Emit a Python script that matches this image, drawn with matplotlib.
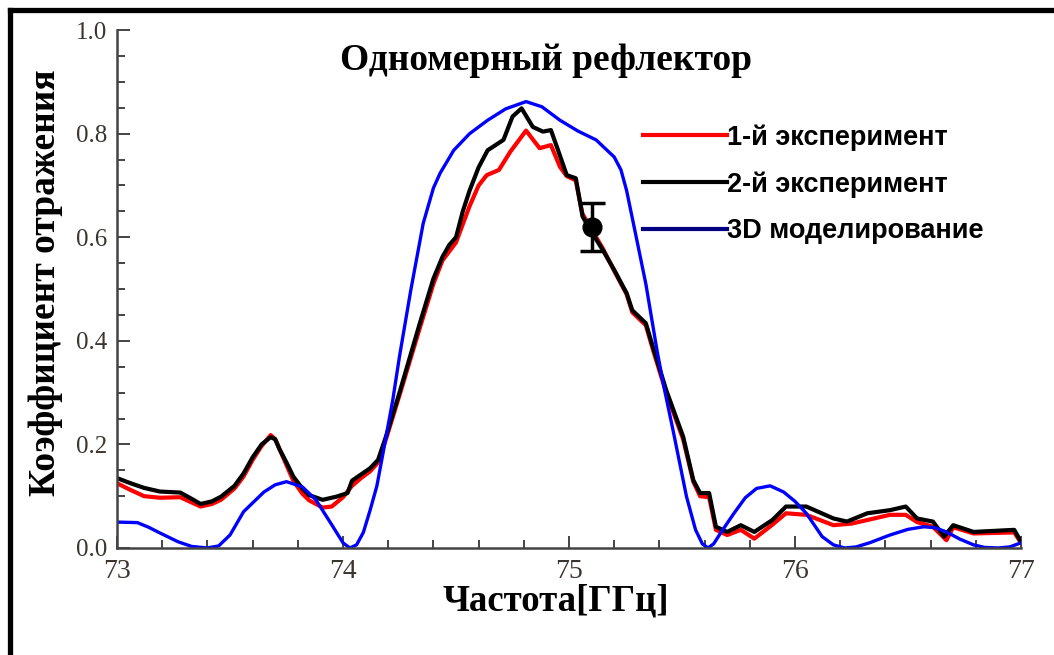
import matplotlib
matplotlib.use("Agg")
import matplotlib.pyplot as plt
from matplotlib.lines import Line2D

# частота, ГГц и коэффициент отражения
freq_exp1 = [73.0, 73.06, 73.12, 73.19, 73.28, 73.33, 73.37, 73.42, 73.46, 73.52, 73.56, 73.6,
             73.64, 73.68, 73.7, 73.72, 73.75, 73.78, 73.82, 73.85, 73.91, 73.95, 74.0, 74.04,
             74.08, 74.12, 74.155, 74.19, 74.25, 74.34, 74.4, 74.44, 74.5, 74.56, 74.6, 74.636,
             74.69, 74.74, 74.81, 74.87, 74.92, 74.96, 74.99, 75.03, 75.05, 75.06, 75.1, 75.15,
             75.2, 75.255, 75.28, 75.34, 75.37, 75.43, 75.505, 75.55, 75.58, 75.62, 75.65, 75.7,
             75.76, 75.82, 75.9, 75.96, 76.05, 76.17, 76.25, 76.42, 76.49, 76.54, 76.61, 76.67,
             76.7, 76.79, 76.97, 77.0]
refl_exp1 = [0.125, 0.112, 0.1, 0.097, 0.098, 0.088, 0.08, 0.085, 0.093, 0.115, 0.138, 0.17,
             0.197, 0.218, 0.21, 0.19, 0.16, 0.13, 0.105, 0.092, 0.078, 0.08, 0.098, 0.12,
             0.135, 0.148, 0.165, 0.21, 0.295, 0.425, 0.51, 0.555, 0.59, 0.66, 0.7, 0.72,
             0.73, 0.765, 0.806, 0.772, 0.778, 0.736, 0.718, 0.71, 0.665, 0.645, 0.615, 0.578,
             0.535, 0.49, 0.455, 0.43, 0.385, 0.3, 0.21, 0.128, 0.1, 0.098, 0.035, 0.025,
             0.035, 0.018, 0.045, 0.067, 0.064, 0.044, 0.047, 0.064, 0.064, 0.05, 0.041, 0.015,
             0.04, 0.028, 0.03, 0.01]

freq_exp2 = [73.0, 73.06, 73.12, 73.19, 73.28, 73.33, 73.37, 73.42, 73.46, 73.52, 73.56, 73.6,
             73.64, 73.68, 73.7, 73.72, 73.75, 73.78, 73.82, 73.85, 73.91, 73.97, 74.02, 74.04,
             74.08, 74.12, 74.155, 74.19, 74.25, 74.34, 74.4, 74.44, 74.47, 74.5, 74.53, 74.56,
             74.6, 74.64, 74.71, 74.75, 74.79, 74.84, 74.885, 74.92, 74.946, 74.99, 75.03, 75.05,
             75.06, 75.1, 75.15, 75.2, 75.255, 75.28, 75.34, 75.37, 75.43, 75.505, 75.55, 75.58,
             75.62, 75.65, 75.7, 75.76, 75.82, 75.9, 75.96, 76.05, 76.17, 76.23, 76.32, 76.42,
             76.49, 76.54, 76.61, 76.66, 76.7, 76.79, 76.97, 77.0]
refl_exp2 = [0.135, 0.125, 0.116, 0.109, 0.107, 0.095, 0.085, 0.09, 0.099, 0.12, 0.144, 0.175,
             0.2, 0.214, 0.21, 0.19, 0.165, 0.138, 0.115, 0.102, 0.093, 0.099, 0.106, 0.13,
             0.142, 0.154, 0.17, 0.215, 0.3, 0.434, 0.52, 0.562, 0.585, 0.6, 0.65, 0.69,
             0.735, 0.768, 0.788, 0.833, 0.849, 0.813, 0.804, 0.807, 0.775, 0.72, 0.714, 0.665,
             0.64, 0.61, 0.575, 0.537, 0.492, 0.459, 0.434, 0.39, 0.305, 0.215, 0.131, 0.106,
             0.106, 0.041, 0.031, 0.044, 0.031, 0.054, 0.08, 0.08, 0.057, 0.051, 0.067, 0.073,
             0.08, 0.057, 0.051, 0.022, 0.044, 0.031, 0.035, 0.012]

freq_model = [73.0, 73.09, 73.14, 73.19, 73.27, 73.33, 73.4, 73.45, 73.5, 73.56, 73.65, 73.7,
              73.75, 73.82, 73.88, 73.95, 74.0, 74.03, 74.06, 74.09, 74.12, 74.15, 74.18, 74.22,
              74.25, 74.3, 74.355, 74.4, 74.43, 74.49, 74.56, 74.64, 74.72, 74.81, 74.88, 74.96,
              75.04, 75.12, 75.2, 75.23, 75.255, 75.3, 75.34, 75.39, 75.42, 75.46, 75.52, 75.56,
              75.59, 75.615, 75.64, 75.68, 75.73, 75.78, 75.83, 75.89, 75.95, 76.0, 76.05, 76.12,
              76.17, 76.22, 76.27, 76.33, 76.42, 76.5, 76.57, 76.62, 76.67, 76.73, 76.79, 76.84,
              76.9, 76.95, 77.0]
refl_model = [0.05, 0.049, 0.04, 0.029, 0.012, 0.003, 0.0, 0.004, 0.025, 0.07, 0.108, 0.122,
              0.128, 0.118, 0.093, 0.045, 0.01, 0.0, 0.006, 0.03, 0.073, 0.12, 0.19, 0.285,
              0.37, 0.498, 0.627, 0.695, 0.724, 0.768, 0.8, 0.826, 0.848, 0.862, 0.852, 0.826,
              0.805, 0.788, 0.755, 0.73, 0.69, 0.595, 0.51, 0.38, 0.311, 0.228, 0.099, 0.035,
              0.008, 0.0, 0.008, 0.035, 0.067, 0.097, 0.115, 0.12, 0.108, 0.09, 0.067, 0.022,
              0.006, 0.0, 0.002, 0.01, 0.025, 0.036, 0.041, 0.039, 0.031, 0.017, 0.006, 0.001,
              0.0, 0.002, 0.01]

# отдельная точка с погрешностью
point_freq = 75.1
point_refl = 0.62
point_err = 0.047

labels = ["1-й эксперимент", "2-й эксперимент", "3D моделирование"]

fig = plt.figure(figsize=(10.54, 6.55), dpi=100)
ax = fig.add_axes([0.111, 0.1634, 0.8577, 0.7906])

ax.plot(freq_exp1, refl_exp1, color="#ff0000", lw=3.0, solid_joinstyle="round")
ax.plot(freq_exp2, refl_exp2, color="#000000", lw=3.0, solid_joinstyle="round")
ax.plot(freq_model, refl_model, color="#0000ff", lw=2.4)
ax.errorbar([point_freq], [point_refl], yerr=[point_err], fmt="o", color="black",
            ms=13.5, elinewidth=2.5, capsize=9, capthick=2.5, zorder=5)

ax.set_xlim(73, 77)
ax.set_ylim(0, 1.0)
ax.set_xticks([73, 74, 75, 76, 77])
ax.set_xticks([73 + 0.2 * i for i in range(21)], minor=True)
ax.set_yticks([0.0, 0.2, 0.4, 0.6, 0.8, 1.0])
ax.set_yticks([0.05 * i for i in range(21)], minor=True)
ax.set_yticklabels(["0.0", "0.2", "0.4", "0.6", "0.8", "1.0"])

tick_col = "#3b3530"
for s in ["top", "right"]:
    ax.spines[s].set_visible(False)
for s in ["left", "bottom"]:
    ax.spines[s].set_color("#444444")
    ax.spines[s].set_linewidth(1.8)
ax.tick_params(which="both", direction="in", color="#444444", width=1.4)
ax.tick_params(which="major", length=9)
ax.tick_params(which="minor", length=6)
ax.tick_params(axis="x", labelsize=20, pad=8, labelcolor=tick_col)
ax.tick_params(axis="y", labelsize=18, pad=7, labelcolor=tick_col)
for lab in ax.get_xticklabels() + ax.get_yticklabels():
    lab.set_family("Liberation Serif")

handles = [Line2D([], [], color="#ff0000", lw=3),
           Line2D([], [], color="#000000", lw=3),
           Line2D([], [], color="#000080", lw=3)]
leg = ax.legend(handles, labels, loc="upper left", bbox_to_anchor=(0.555, 0.865),
                frameon=False, handlelength=3.1, handletextpad=0.0, labelspacing=0.75,
                prop={"family": "Liberation Sans", "weight": "bold", "size": 19.5})

serif_bold = {"family": "Liberation Serif", "weight": "bold"}
fig.text(0.518, 0.908, "Одномерный рефлектор", ha="center", va="center",
         fontsize=27, **serif_bold)
fig.text(0.527, 0.083, "Частота[ГГц]", ha="center", va="center", fontsize=26.5, **serif_bold)
fig.text(0.043, 0.569, "Коэффициент отражения", ha="center", va="center",
         rotation=90, fontsize=27, **serif_bold)

# рамка сверху и слева
fig.add_artist(Line2D([0.0095, 1.0], [0.984, 0.984], color="black", lw=3.8,
                      transform=fig.transFigure))
fig.add_artist(Line2D([0.0095, 0.0095], [0.0, 0.984], color="black", lw=3.8,
                      transform=fig.transFigure))

fig.savefig("out.png", dpi=100)
